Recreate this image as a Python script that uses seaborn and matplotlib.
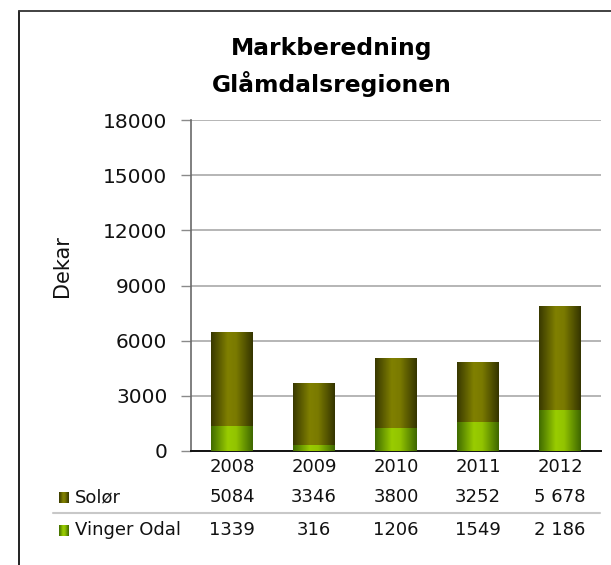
import numpy as np
import pandas as pd
import matplotlib
matplotlib.use('Agg')
import matplotlib.pyplot as plt
import seaborn as sns
import matplotlib.transforms as mtransforms
from matplotlib.colors import LinearSegmentedColormap
from matplotlib.lines import Line2D

# ---- data ----
years = ['2008', '2009', '2010', '2011', '2012']
solor = [5084, 3346, 3800, 3252, 5678]
vinger = [1339, 316, 1206, 1549, 2186]
solor_labels = ['5084', '3346', '3800', '3252', '5 678']
vinger_labels = ['1339', '316', '1206', '1549', '2 186']
series_names = ['Solør', 'Vinger Odal']
title_lines = ['Markberedning', 'Glåmdalsregionen']
ylabel = 'Dekar'
yticks = [0, 3000, 6000, 9000, 12000, 15000, 18000]

W, H = 611, 565

sns.set_theme(style='white')
plt.rcParams['font.family'] = ['DejaVu Sans', 'Noto Sans']

cmap_sol = LinearSegmentedColormap.from_list(
    'sol', [(0, '#383800'), (0.4, '#808000'), (0.6, '#7a7a00'), (1, '#343400')])
cmap_vin = LinearSegmentedColormap.from_list(
    'vin', [(0, '#3f6a00'), (0.4, '#99cc00'), (0.6, '#92c400'), (1, '#3d6600')])

fig = plt.figure(figsize=(W / 100, H / 100), dpi=100)
ax = fig.add_axes([191 / W, 1 - 451 / H, 410 / W, 331 / H])

df = pd.DataFrame({'year': years,
                   'total': np.add(solor, vinger),
                   'vinger': vinger})
sns.barplot(data=df, x='year', y='total', color='#808000', width=0.51,
            saturation=1, ax=ax, errorbar=None)
n1 = len(ax.patches)
sns.barplot(data=df, x='year', y='vinger', color='#99cc00', width=0.51,
            saturation=1, ax=ax, errorbar=None)

grad = np.linspace(0, 1, 256).reshape(1, -1)
for i, p in enumerate(ax.patches):
    x0, y0 = p.get_x(), p.get_y()
    w, h = p.get_width(), p.get_height()
    cm = cmap_sol if i < n1 else cmap_vin
    ax.imshow(grad, cmap=cm, extent=[x0, x0 + w, y0, y0 + h],
              aspect='auto', zorder=3 if i < n1 else 4, interpolation='bilinear')
    p.set_visible(False)

ax.set_xlim(-0.5, 4.5)
ax.set_ylim(0, 18000)
ax.set_yticks(yticks)
ax.set_yticklabels([str(t) for t in yticks])
ax.set_xticklabels([])
ax.set_xlabel('')
ax.set_ylabel('')
ax.yaxis.grid(True, color='#b5b5b5', lw=1.4)
ax.xaxis.grid(False)
ax.set_axisbelow(True)
for s in ['top', 'right']:
    ax.spines[s].set_visible(False)
ax.spines['left'].set_color('#6a6a6a')
ax.spines['left'].set_linewidth(1.2)
ax.spines['bottom'].set_color('#111111')
ax.spines['bottom'].set_linewidth(1.4)
ax.tick_params(axis='y', left=True, length=7, width=1, color='#8a8a8a',
               labelsize=14.5, pad=10, labelcolor='#111111')
ax.tick_params(axis='x', bottom=False, length=0)

# y label
fig.text(62 / W, 1 - 266 / H, ylabel, rotation=90, ha='center', va='center',
         fontsize=15, color='#111111')

# title
fig.text(332 / W, 1 - 48 / H, title_lines[0], ha='center', va='center',
         fontsize=16.8, fontweight='bold', color='#000000')
fig.text(332 / W, 1 - 84 / H, title_lines[1], ha='center', va='center',
         fontsize=16.8, fontweight='bold', color='#000000')

# data table
bt = mtransforms.blended_transform_factory(ax.transData, fig.transFigure)
for i, yr in enumerate(years):
    ax.text(i, 1 - 467 / H, yr, transform=bt, ha='center', va='center',
            fontsize=13, color='#111111')
    ax.text(i, 1 - 497 / H, solor_labels[i], transform=bt, ha='center',
            va='center', fontsize=13, color='#111111')
    ax.text(i, 1 - 530 / H, vinger_labels[i], transform=bt, ha='center',
            va='center', fontsize=13, color='#111111')

fig.text(75 / W, 1 - 497 / H, series_names[0], ha='left', va='center',
         fontsize=13, color='#111111')
fig.text(75 / W, 1 - 530 / H, series_names[1], ha='left', va='center',
         fontsize=13, color='#111111')

# legend squares
for (yc, cm) in [(497, cmap_sol), (530, cmap_vin)]:
    sq = fig.add_axes([59 / W, 1 - (yc + 5.5) / H, 10 / W, 11 / H])
    sq.imshow(grad, cmap=cm, aspect='auto', interpolation='bilinear')
    sq.axis('off')

# separator line
fig.add_artist(Line2D([53 / W, 600 / W], [1 - 513 / H, 1 - 513 / H],
                      color='#c8c8c8', lw=1.5, transform=fig.transFigure))

# frame
fig.add_artist(Line2D([19 / W, 19 / W], [0, 1 - 11 / H], color='#111111',
                      lw=1.3, transform=fig.transFigure))
fig.add_artist(Line2D([19 / W, 1], [1 - 11 / H, 1 - 11 / H], color='#333333',
                      lw=1.3, transform=fig.transFigure))

fig.savefig('out.png', dpi=100)
